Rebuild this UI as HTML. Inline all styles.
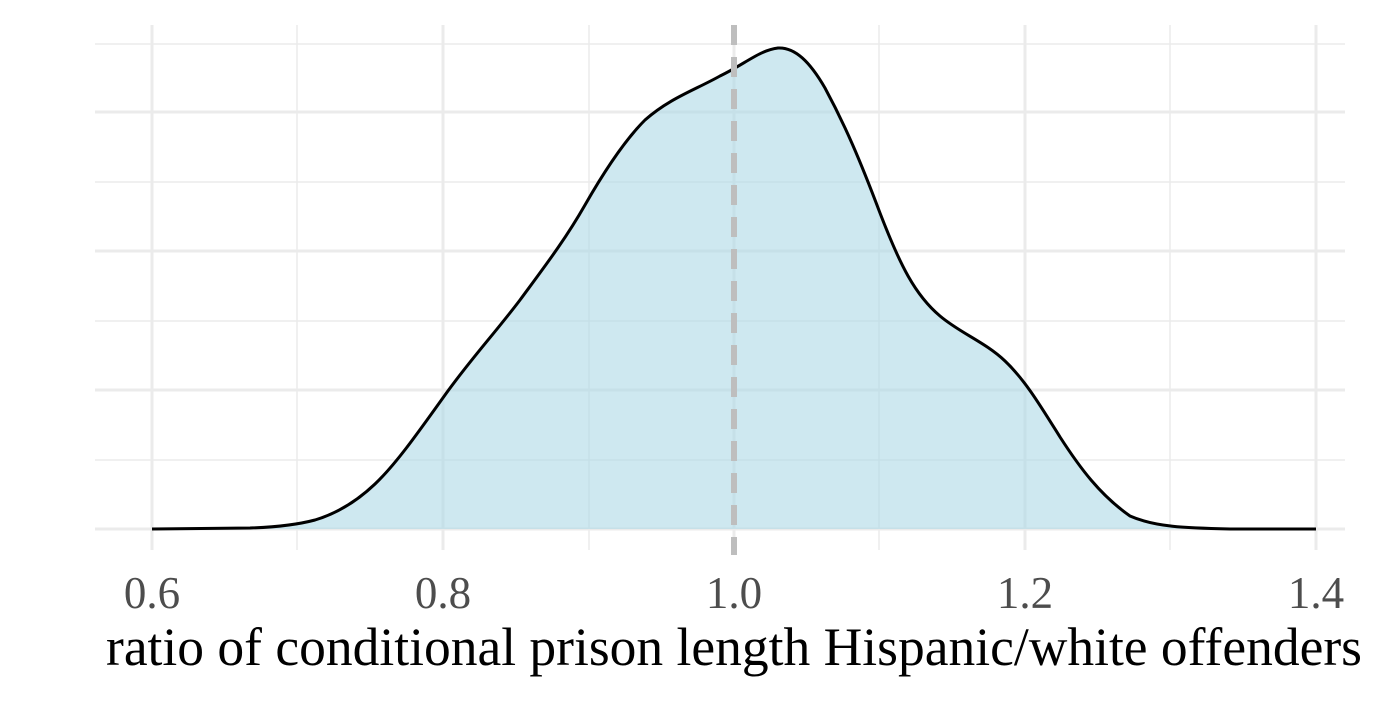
<!DOCTYPE html>
<html><head><style>body{margin:0;background:#fff}</style></head><body>
<svg width="1400" height="700" xmlns="http://www.w3.org/2000/svg" font-family="Liberation Serif, serif">
<g stroke="#ebebeb" stroke-width="1.5">
<line x1="95" x2="1345" y1="460" y2="460"/><line x1="95" x2="1345" y1="321" y2="321"/><line x1="95" x2="1345" y1="182" y2="182"/><line x1="95" x2="1345" y1="44" y2="44"/>
<line x1="297" x2="297" y1="25" y2="550"/><line x1="589" x2="589" y1="25" y2="550"/><line x1="879" x2="879" y1="25" y2="550"/><line x1="1170" x2="1170" y1="25" y2="550"/>
</g>
<g stroke="#ebebeb" stroke-width="3">
<line x1="95" x2="1345" y1="529" y2="529"/><line x1="95" x2="1345" y1="390" y2="390"/><line x1="95" x2="1345" y1="251" y2="251"/><line x1="95" x2="1345" y1="112" y2="112"/>
<line x1="152" x2="152" y1="25" y2="550"/><line x1="443" x2="443" y1="25" y2="550"/><line x1="734" x2="734" y1="25" y2="550"/><line x1="1025" x2="1025" y1="25" y2="550"/><line x1="1316" x2="1316" y1="25" y2="550"/>
</g>
<path d="M152,529 L250,528 C280,527 300,524 315,520 C335,514 355,503 375,484 C395,465 415,437 445,395 C470,360 495,333 520,300 C545,266 565,240 585,205 C605,170 625,140 645,120 C670,98 695,90 720,76 C745,64 760,50 778,48 C795,47 810,62 825,88 C845,125 860,160 880,213 C900,265 915,295 940,316 C960,333 985,342 1005,361 C1025,380 1040,405 1060,437 C1080,468 1100,495 1130,516 C1155,527 1185,528 1230,529 L1316,529" fill="#add8e6" fill-opacity="0.6" stroke="#000" stroke-width="3"/>
<line x1="734" x2="734" y1="25" y2="555" stroke="#bebebe" stroke-width="6" stroke-dasharray="20,12"/>
<g font-size="45" fill="#4d4d4d" text-anchor="middle">
<text x="152" y="608">0.6</text><text x="443" y="608">0.8</text><text x="734" y="608">1.0</text><text x="1025" y="608">1.2</text><text x="1316" y="608">1.4</text>
</g>
<text x="734" y="665" font-size="53.5" text-anchor="middle" fill="#000">ratio of conditional prison length Hispanic/white offenders</text>
</svg>
</body></html>
